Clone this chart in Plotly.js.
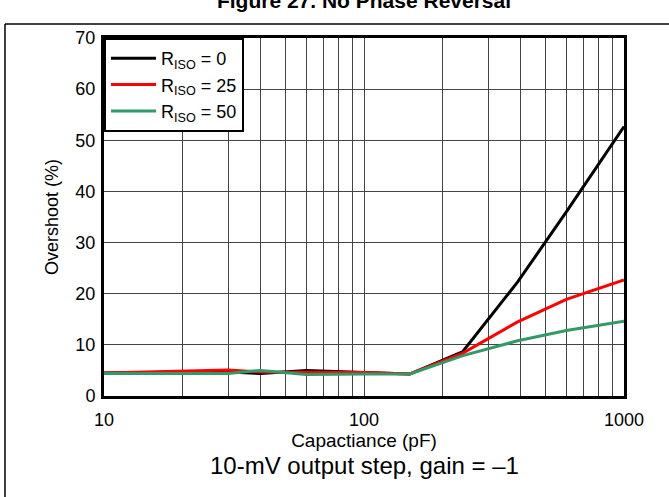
<!DOCTYPE html>
<html>
<head>
<meta charset="utf-8">
<script src="https://cdn.plot.ly/plotly-3.0.1.min.js"></script>
<style>html,body{margin:0;padding:0;background:#fff;}#chart{width:669px;height:497px;}</style>
</head>
<body>
<div id="chart"></div>
<script>
// Capacitance (pF)
const capacitance = [10, 20, 30, 40, 60, 100, 150, 240, 390, 600, 1000];
// Overshoot (%)
const riso0  = [4.5, 4.6, 4.7, 4.4, 5.0, 4.6, 4.3, 8.7, 22.3, 36.0, 52.7];
const riso25 = [4.5, 4.8, 5.1, 4.7, 4.6, 4.6, 4.3, 8.4, 14.5, 18.9, 22.7];
const riso50 = [4.4, 4.4, 4.4, 5.0, 4.2, 4.3, 4.3, 7.9, 10.8, 12.8, 14.6];
const seriesNames = ['R<sub>ISO</sub> = 0', 'R<sub>ISO</sub> = 25', 'R<sub>ISO</sub> = 50'];

const xTickVals = [10,20,30,40,50,60,70,80,90,100,200,300,400,500,600,700,800,900,1000];
const xTickText = ['10','','','','','','','','','100','','','','','','','','','1000'];
const yTickVals = [0,10,20,30,40,50,60,70];

const FONT = 'Liberation Sans, Arial, sans-serif';

const traces = [
  {x: capacitance, y: riso0,  name: seriesNames[0], line: {color: '#000000', width: 3}},
  {x: capacitance, y: riso25, name: seriesNames[1], line: {color: '#ff0000', width: 3}},
  {x: capacitance, y: riso50, name: seriesNames[2], line: {color: '#339966', width: 3}}
].map(t => Object.assign({type: 'scatter', mode: 'lines'}, t));

const layout = {
  width: 669, height: 497,
  margin: {l: 104, r: 45, t: 38, b: 101},
  paper_bgcolor: '#ffffff', plot_bgcolor: '#ffffff',
  font: {family: FONT, color: '#000', size: 17},
  title: {
    text: '<b>Figure 27. No Phase Reversal</b>',
    font: {family: FONT, size: 21, color: '#000'},
    xref: 'paper', x: 0.5, xanchor: 'center',
    yref: 'container', y: 0.999, yanchor: 'middle'
  },
  xaxis: {
    type: 'log', range: [1, 3],
    tickvals: xTickVals, ticktext: xTickText,
    ticks: '', showgrid: true, gridcolor: '#444', gridwidth: 1,
    showline: true, linecolor: '#000', linewidth: 3, mirror: true,
    zeroline: false, tickfont: {size: 18}, ticklabelstandoff: 5,
    title: {text: 'Capactiance (pF)', font: {size: 19}, standoff: 2}
  },
  yaxis: {
    range: [0, 70], tickvals: yTickVals,
    ticks: '', showgrid: true, gridcolor: '#444', gridwidth: 1,
    showline: true, linecolor: '#000', linewidth: 3, mirror: true,
    zeroline: false, tickfont: {size: 18}, ticklabelstandoff: 2,
    title: {text: 'Overshoot (%)', font: {size: 18}, standoff: 13}
  },
  showlegend: true,
  legend: {
    x: 0, y: 1, xanchor: 'left', yanchor: 'top',
    bgcolor: '#ffffff', bordercolor: '#000', borderwidth: 2,
    font: {size: 18}, tracegroupgap: 0, itemwidth: 45
  },
  annotations: [{
    text: '10-mV output step, gain = \u20131',
    xref: 'paper', yref: 'paper', x: 0.5, y: -0.1955,
    xanchor: 'center', yanchor: 'middle', showarrow: false,
    font: {size: 24}
  }],
  shapes: [
    {type: 'line', xref: 'paper', yref: 'paper', x0: -0.1904, x1: -0.1904, y0: -0.3, y1: 1.0391, line: {color: '#000', width: 1.5}},
    {type: 'line', xref: 'paper', yref: 'paper', x0: -0.1904, x1: 1.1, y0: 1.0391, y1: 1.0391, line: {color: '#000', width: 1.5}}
  ]
};

Plotly.newPlot('chart', traces, layout, {staticPlot: true, displayModeBar: false});
</script>
</body>
</html>
